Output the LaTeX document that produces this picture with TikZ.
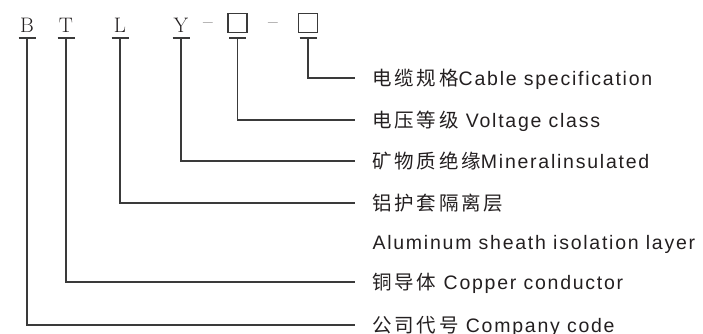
\documentclass[tikz,border=0pt]{standalone}
\usepackage{fontspec}
\newfontfamily\descfont{Liberation Sans}[LetterSpace=9]
\newfontfamily\cjk{Noto Sans CJK SC}[LetterSpace=14]
\definecolor{inkgray}{HTML}{231F20}
\definecolor{linegray}{HTML}{3A3A3A}
\begin{document}
\begin{tikzpicture}[x=1pt, y=-1pt, line width=1.1pt,
        code/.style={anchor=base, inner sep=0pt, text=inkgray, font=\fontsize{21}{25}\selectfont},
        slot/.style={draw=linegray, line width=1.2pt, minimum size=19pt, inner sep=0pt},
        desc/.style={anchor=west, inner sep=0pt, text height=14pt, text depth=0pt, text=inkgray,
            font=\descfont\fontsize{19.5}{23}\selectfont}]
        \useasboundingbox (0,0) rectangle (703,333);
        \foreach \name/\x in {B/27,T/66,L/120,Y/181} {
            \node[code] (code-\name) at (\x,32) {\name};
            \coordinate (tee-\name) at (\x,38);
        }
        \foreach \name/\x in {1/237.5,2/308} {
            \node[slot] (slot-\name) at (\x,23) {};
            \coordinate (tee-\name) at (\x,38);
        }
        \node[code] (dash-1) at (208,28.5) {--};
        \node[code] (dash-2) at (273,28.5) {--};
        \node[desc] (desc-2) at (372,78) {{\cjk 电缆规格}Cable specification};
        \node[desc] (desc-1) at (372,120) {{\cjk 电压等级} Voltage class};
        \node[desc] (desc-Y) at (372,161) {{\cjk 矿物质绝缘}Mineralinsulated};
        \node[desc] (desc-L) at (372,203) {{\cjk 铝护套隔离层}};
        \node[desc] (desc-L2) at (372,242) {Aluminum sheath isolation layer};
        \node[desc] (desc-T) at (372,282) {{\cjk 铜导体} Copper conductor};
        \node[desc] (desc-B) at (372,325) {{\cjk 公司代号} Company code};
        \foreach \name in {B,T,L,Y,1,2} {
            \draw[linegray] ([xshift=-8.5pt]tee-\name) -- ([xshift=8.5pt]tee-\name);
            \draw[linegray] (tee-\name) |- ([xshift=-17pt]desc-\name.west);
        }
    \end{tikzpicture}
\end{document}
